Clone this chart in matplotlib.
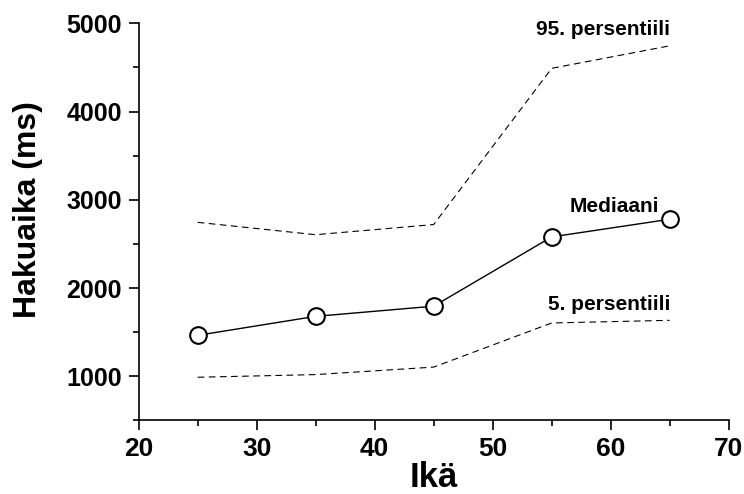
import numpy as np
import matplotlib.pyplot as plt
from matplotlib.ticker import MultipleLocator

plt.rcParams['font.family'] = ['Liberation Sans', 'DejaVu Sans']
plt.rcParams['font.weight'] = 'bold'

# Data
ika = [25, 35, 45, 55, 65]
mediaani = [1465, 1680, 1795, 2580, 2780]
p95 = [2745, 2605, 2720, 4490, 4745]
p5 = [990, 1020, 1105, 1605, 1635]

fig = plt.figure(figsize=(7.44, 4.94), dpi=100)
ax = fig.add_axes([0.1864, 0.1488, 0.793, 0.804])

ax.plot(ika, p95, color='black', lw=0.8, ls=(0, (6, 4)))
ax.plot(ika, p5, color='black', lw=0.8, ls=(0, (6, 4)))
ax.plot(ika, mediaani, color='black', lw=1.0, marker='o', markersize=12,
        markerfacecolor='white', markeredgecolor='black', markeredgewidth=1.5)

ax.text(65, 4866, '95. persentiili', ha='right', va='baseline', fontsize=15, fontweight='bold')
ax.text(64.1, 2863, 'Mediaani', ha='right', va='baseline', fontsize=15, fontweight='bold')
ax.text(65.1, 1748, '5. persentiili', ha='right', va='baseline', fontsize=15, fontweight='bold')

ax.set_xlim(20, 70)
ax.set_ylim(500, 5000)
ax.xaxis.set_major_locator(MultipleLocator(10))
ax.xaxis.set_minor_locator(MultipleLocator(5))
ax.yaxis.set_major_locator(MultipleLocator(1000))
ax.yaxis.set_minor_locator(MultipleLocator(500))
ax.set_yticks([1000, 2000, 3000, 4000, 5000])

for s in ['top', 'right']:
    ax.spines[s].set_visible(False)
for s in ['left', 'bottom']:
    ax.spines[s].set_linewidth(1.2)

ax.tick_params(which='major', direction='out', length=7, width=1.2, pad=5)
ax.tick_params(which='minor', direction='out', length=4, width=1.2)
ax.tick_params(axis='x', which='major', labelsize=19)
ax.tick_params(axis='y', which='major', labelsize=18)
for lab in ax.get_xticklabels() + ax.get_yticklabels():
    lab.set_fontweight('bold')

ax.set_xlabel('Ikä', fontsize=25, fontweight='bold', labelpad=0)
ax.set_ylabel('Hakuaika (ms)', fontsize=23, fontweight='bold', va='center')
ax.yaxis.set_label_coords(-0.188, 0.53)

plt.savefig('out.png', dpi=100)
